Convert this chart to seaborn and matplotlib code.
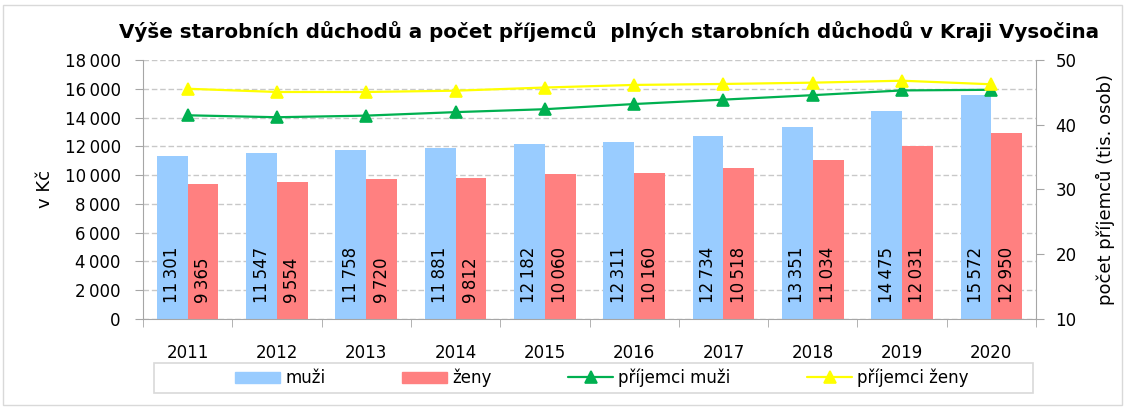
import pandas as pd
import matplotlib.pyplot as plt
import seaborn as sns
from matplotlib.patches import Rectangle
from matplotlib.ticker import FuncFormatter, MultipleLocator, FixedLocator

# data
years = ["2011", "2012", "2013", "2014", "2015", "2016", "2017", "2018", "2019", "2020"]
muzi = [11301, 11547, 11758, 11881, 12182, 12311, 12734, 13351, 14475, 15572]
zeny = [9365, 9554, 9720, 9812, 10060, 10160, 10518, 11034, 12031, 12950]
prijemci_muzi = [41.46, 41.16, 41.41, 41.95, 42.4, 43.2, 43.88, 44.57, 45.3, 45.4]
prijemci_zeny = [45.56, 45.06, 45.06, 45.26, 45.75, 46.15, 46.3, 46.5, 46.8, 46.25]

df = pd.DataFrame({"rok": years * 2,
                   "pohlavi": ["muži"] * len(years) + ["ženy"] * len(years),
                   "duchod": muzi + zeny})
lines = pd.DataFrame({"rok": years, "příjemci muži": prijemci_muzi,
                      "příjemci ženy": prijemci_zeny})

sns.set_style("white")
plt.rcParams["font.family"] = ["DejaVu Sans"]
plt.rcParams["text.color"] = "black"
plt.rcParams["axes.labelcolor"] = "black"

fig = plt.figure(figsize=(11.26, 4.08), dpi=100)
ax = fig.add_axes([143 / 1126, 1 - 319 / 408, (1036 - 143) / 1126, 259 / 408])

grey = "#A6A6A6"
sns.barplot(data=df, x="rok", y="duchod", hue="pohlavi", ax=ax,
            palette={"muži": "#99CCFF", "ženy": "#FF8080"},
            width=0.69, gap=0, saturation=1, legend=False,
            edgecolor="none", linewidth=0)

fmt = lambda v: f"{int(v):,}".replace(",", "\u202f")

# value labels inside bars, starting near the base
for cont, vals in zip(ax.containers, [muzi, zeny]):
    for p, v in zip(cont.patches, vals):
        ax.annotate(fmt(v), (p.get_x() + p.get_width() / 2, 0),
                    xytext=(0, 16), textcoords="offset pixels",
                    rotation=90, ha="center", va="bottom", fontsize=12, color="black")

ax.set_ylim(0, 18000)
ax.yaxis.set_major_locator(MultipleLocator(2000))
ax.yaxis.set_major_formatter(FuncFormatter(lambda v, _: fmt(v)))
ax.grid(axis="y", color="#C8C8C8", linestyle=(0, (4, 2)), linewidth=1)
ax.set_axisbelow(True)
ax.set_xlim(-0.5, len(years) - 0.5)
ax.set_xlabel("")
ax.set_ylabel("v Kč", fontsize=13, labelpad=8)
ax.tick_params(axis="y", which="major", direction="out", length=6, color=grey,
               left=True, labelsize=12, pad=10, labelcolor="black")
ax.tick_params(axis="x", which="major", length=0, labelsize=12, pad=18, labelcolor="black")
ax.xaxis.set_minor_locator(FixedLocator([i - 0.5 for i in range(len(years) + 1)]))
ax.tick_params(axis="x", which="minor", direction="out", length=6, color=grey, bottom=True)
for s in ["top", "right"]:
    ax.spines[s].set_visible(False)
for s in ["left", "bottom"]:
    ax.spines[s].set_color(grey)

# lines on secondary axis
ax2 = ax.twinx()
sns.pointplot(data=lines, x="rok", y="příjemci muži", ax=ax2, color="#00B050",
              markers="^", markersize=8, linewidth=1.6, label="příjemci muži")
sns.pointplot(data=lines, x="rok", y="příjemci ženy", ax=ax2, color="#FFFF00",
              markers="^", markersize=8, linewidth=1.6, label="příjemci ženy")
ax2.set_ylim(10, 50)
ax2.set_xlim(-0.5, len(years) - 0.5)
ax2.yaxis.set_major_locator(MultipleLocator(10))
ax2.set_ylabel("počet příjemců (tis. osob)", fontsize=13, labelpad=14)
ax2.set_xlabel("")
ax2.tick_params(axis="y", direction="out", length=6, color=grey, right=True,
                labelsize=12, pad=8, labelcolor="black")
ax2.grid(False)
for s in ["top", "left", "bottom"]:
    ax2.spines[s].set_visible(False)
ax2.spines["right"].set_color(grey)
if ax2.get_legend():
    ax2.get_legend().remove()

fig.suptitle("Výše starobních důchodů a počet příjemců  plných starobních důchodů v Kraji Vysočina",
             x=609 / 1126, y=1 - 32 / 408, va="center", fontsize=14.3, fontweight="bold",
             color="black")

# legend
bar_handles = [Rectangle((0, 0), 1, 1, color="#99CCFF"), Rectangle((0, 0), 1, 1, color="#FF8080")]
line_handles = ax2.get_lines()
h_m = [l for l in line_handles if l.get_label() == "příjemci muži"]
h_z = [l for l in line_handles if l.get_label() == "příjemci ženy"]
handles = bar_handles + [h_m[0] if h_m else line_handles[0], h_z[0] if h_z else line_handles[-1]]
leg = fig.legend(handles, ["muži", "ženy", "příjemci muži", "příjemci ženy"],
                 loc="center", bbox_to_anchor=(602 / 1126, 1 - 378 / 408),
                 ncol=4, fontsize=12, frameon=False, columnspacing=4.6,
                 handlelength=2.7, handleheight=0.7, handletextpad=0.3)
# legend box
fig.patches.append(Rectangle((154 / 1126, 1 - 393 / 408), 879 / 1126, 30 / 408,
                             transform=fig.transFigure, fill=False,
                             edgecolor="#D9D9D9", linewidth=1.2))

# outer frame
fig.patches.append(Rectangle((3 / 1126, 3 / 408), 1119 / 1126, 400 / 408, transform=fig.transFigure,
                             fill=False, edgecolor="#D9D9D9", linewidth=1))

fig.savefig("out.png", dpi=100)
